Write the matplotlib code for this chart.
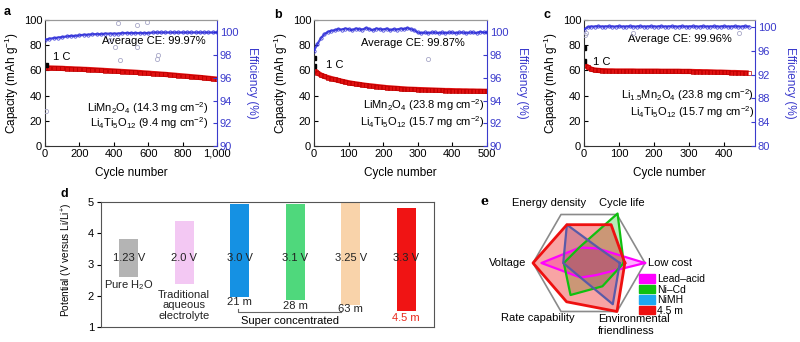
import numpy as np
import matplotlib
matplotlib.use("Agg")
import matplotlib.pyplot as plt
from matplotlib.patches import Patch

plt.rcParams['font.family'] = ['Liberation Sans', 'DejaVu Sans']
plt.rcParams['mathtext.fontset'] = 'custom'
plt.rcParams['mathtext.rm'] = 'Liberation Sans'
plt.rcParams['mathtext.default'] = 'regular'
plt.rcParams['font.size'] = 8

# ---- panel a data ----
cyc_a = [0, 25, 50, 75, 100, 125, 150, 175, 200, 225, 250, 275, 300, 325, 350, 375, 400,
         425, 450, 475, 500, 525, 550, 575, 600, 625, 650, 675, 700, 725, 750, 775, 800,
         825, 850, 875, 900, 925, 950, 975, 1000]
cap_a = [62.0, 61.9, 61.8, 61.7, 61.6, 61.4, 61.3, 61.1, 61.0, 60.8, 60.7, 60.5, 60.3,
         60.1, 59.9, 59.7, 59.5, 59.3, 59.1, 58.9, 58.7, 58.5, 58.3, 58.0, 57.8, 57.5,
         57.3, 57.0, 56.8, 56.5, 56.2, 55.9, 55.6, 55.3, 55.0, 54.7, 54.4, 54.1, 53.7,
         53.4, 53.0]
eff_a = [99.35, 99.45, 99.5, 99.55, 99.6, 99.65, 99.7, 99.7, 99.75, 99.8, 99.8, 99.85,
         99.85, 99.85, 99.9, 99.9, 99.9, 99.9, 99.95, 99.95, 99.95, 99.95, 99.95, 99.95,
         99.95, 100.0, 100.0, 100.0, 100.0, 100.0, 100.0, 100.0, 100.0, 100.0, 100.0,
         100.0, 100.0, 100.0, 100.0, 100.0, 100.0]
out_cyc_a = [8, 378, 407, 425, 436, 533, 533, 591, 651, 657]
out_eff_a = [93.1, 99.3, 98.7, 100.8, 97.6, 100.7, 98.7, 100.9, 97.7, 98.0]
first_cyc_a = [3]
first_cap_a = [64.5]

# ---- panel b data ----
cyc_b = [0, 10, 20, 30, 40, 50, 60, 70, 80, 90, 100, 110, 120, 130, 140, 150, 160, 170,
         180, 190, 200, 210, 220, 230, 240, 250, 260, 270, 280, 290, 300, 310, 320, 330,
         340, 350, 360, 370, 380, 390, 400, 410, 420, 430, 440, 450, 460, 470, 480, 490, 500]
cap_b = [60.5, 58.0, 56.3, 55.2, 54.3, 53.5, 52.8, 52.1, 51.4, 50.8, 50.2, 49.7, 49.3,
         48.9, 48.5, 48.1, 47.8, 47.5, 47.2, 46.9, 46.6, 46.3, 46.1, 45.9, 45.7, 45.5,
         45.3, 45.1, 45.0, 44.9, 44.8, 44.7, 44.6, 44.5, 44.4, 44.3, 44.2, 44.1, 44.0,
         44.0, 43.9, 43.8, 43.8, 43.7, 43.7, 43.6, 43.6, 43.5, 43.5, 43.4, 43.4]
eff_b = [98.4, 99.0, 99.5, 99.85, 100.05, 100.15, 100.2, 100.3, 100.25, 100.35, 100.3,
         100.2, 100.35, 100.3, 100.25, 100.4, 100.3, 100.2, 100.35, 100.3, 100.25, 100.35,
         100.2, 100.3, 100.25, 100.35, 100.3, 100.4, 100.3, 100.2, 100.0, 99.95, 100.0,
         99.95, 100.0, 100.0, 99.95, 100.0, 99.95, 100.0, 100.0, 99.95, 100.0, 100.0,
         99.95, 100.0, 100.0, 99.95, 100.05, 100.0, 100.0]
out_cyc_b = [330]
out_eff_b = [97.7]
first_cyc_b = [1, 1]
first_cap_b = [69.6, 63.5]

# ---- panel c data ----
cyc_c = [0, 10, 20, 30, 40, 50, 60, 70, 80, 90, 100, 110, 120, 130, 140, 150, 160, 170,
         180, 190, 200, 210, 220, 230, 240, 250, 260, 270, 280, 290, 300, 310, 320, 330,
         340, 350, 360, 370, 380, 390, 400, 410, 420, 430, 440, 450, 460, 470]
cap_c = [64.3, 62.8, 61.0, 60.3, 60.0, 59.8, 59.7, 59.6, 59.6, 59.5, 59.5, 59.5, 59.5,
         59.5, 59.5, 59.4, 59.4, 59.4, 59.4, 59.4, 59.4, 59.4, 59.3, 59.3, 59.3, 59.3,
         59.3, 59.3, 59.2, 59.2, 59.2, 59.1, 59.0, 59.0, 58.9, 58.9, 58.8, 58.7, 58.6,
         58.6, 58.5, 58.4, 58.3, 58.3, 58.2, 58.1, 58.0, 57.9]
eff_c = [99.6, 100.0, 100.1, 100.1, 100.15, 100.1, 100.1, 100.15, 100.1, 100.1, 100.15,
         100.1, 100.1, 100.15, 100.1, 100.1, 100.15, 100.1, 100.1, 100.15, 100.1, 100.1,
         100.15, 100.1, 100.1, 100.15, 100.1, 100.1, 100.15, 100.1, 100.1, 100.15, 100.1,
         100.1, 100.15, 100.1, 100.1, 100.15, 100.1, 100.1, 100.15, 100.1, 100.1, 100.15,
         100.1, 100.1, 100.15, 100.1]
out_cyc_c = [2, 7, 140, 441]
out_eff_c = [98.6, 99.0, 99.0, 99.0]
first_cyc_c = [1, 1]
first_cap_c = [77.5, 67.7]

# ---- panel d data ----
elec_names = ['Pure H$_2$O', 'Traditional\naqueous\nelectrolyte', '21 m', '28 m', '63 m', '4.5 m']
win_low = [2.6, 2.38, 1.95, 1.85, 1.72, 1.5]
win_high = [3.83, 4.38, 4.95, 4.95, 4.97, 4.8]
win_text = ['1.23 V', '2.0 V', '3.0 V', '3.1 V', '3.25 V', '3.3 V']
win_colors = ['#b4b4b4', '#f3c8f3', '#1591e3', '#4fd87c', '#f9d3aa', '#f01414']

# ---- panel e data ----
radar_axes = ['Low cost', 'Cycle life', 'Energy density', 'Voltage',
              'Rate capability', 'Environmental\nfriendliness']
lead_acid = [1.00, 0.30, 0.32, 0.85, 0.30, 0.25]
ni_cd = [0.62, 1.02, 0.33, 0.45, 0.66, 0.48]
nimh = [0.55, 0.32, 0.79, 0.46, 0.30, 0.85]
m45 = [0.64, 0.79, 0.79, 1.00, 0.80, 1.00]

RED = '#e01010'
BLUE = '#2a2ad8'
AXBLUE = '#3a3acc'

fig = plt.figure(figsize=(8, 3.42), dpi=100)


def px(x0, y0, x1, y1):
    return [x0 / 800, 1 - y1 / 342, (x1 - x0) / 800, (y1 - y0) / 342]


def cycle_panel(rect, cyc, cap, eff, oc, oe, fc, fcap, xlim, xt, xtl, elim, et,
                ce, ce_pos, c1_pos, lab1, lab2, lab_pos, letter, let_xy):
    ax = fig.add_axes(rect)
    ax.plot(cyc, cap, '-', color=RED, lw=3.8, solid_capstyle='butt')
    ax.plot(cyc, cap, 's', ms=2.2, mfc='none', mec='#c00000', mew=0.5)
    ax.plot(fc, fcap, 's', color='black', ms=2.5)
    ax.set_xlim(*xlim)
    ax.set_ylim(0, 100)
    ax.set_xticks(xt)
    ax.set_xticklabels(xtl)
    ax.set_yticks([0, 20, 40, 60, 80, 100])
    ax.tick_params(direction='in', length=3, labelsize=8, pad=2)
    ax.set_xlabel('Cycle number', fontsize=8.5, labelpad=6)
    ax.set_ylabel('Capacity (mAh g$^{-1}$)', fontsize=8.5, labelpad=2)
    for s in ['left', 'bottom']:
        ax.spines[s].set_color('#333333')
    ax.spines['top'].set_color('#999999')
    ax.spines['right'].set_visible(False)

    ax2 = ax.twinx()
    ax2.plot(cyc, eff, '-', color=BLUE, lw=1.6, alpha=0.85)
    ax2.plot(cyc, eff, 'o', ms=2.4, mfc='none', mec=BLUE, mew=0.5)
    ax2.plot(oc, oe, 'o', ms=3, mfc='none', mec='#a8a8c8', mew=0.6)
    ax2.set_ylim(*elim)
    ax2.set_yticks(et)
    ax2.tick_params(direction='in', length=3, labelsize=8, colors=AXBLUE, pad=2)
    ax2.spines['right'].set_color(AXBLUE)
    ax2.spines['top'].set_color('#999999')
    ax2.spines['left'].set_visible(False)
    ax2.spines['bottom'].set_visible(False)
    ax2.set_ylabel('Efficiency (%)', color=AXBLUE, rotation=270, fontsize=8.5, labelpad=14)

    ax.text(ce_pos[0], ce_pos[1], 'Average CE: ' + ce, transform=ax.transAxes,
            ha='right', va='center', fontsize=8)
    ax.text(c1_pos[0], c1_pos[1], '1 C', ha='left', va='center', fontsize=8)
    ax.text(lab_pos[0], lab_pos[1], lab1, transform=ax.transAxes, ha='right', va='center', fontsize=8)
    ax.text(lab_pos[0], lab_pos[2], lab2, transform=ax.transAxes, ha='right', va='center', fontsize=8)
    fig.text(let_xy[0] / 800, 1 - let_xy[1] / 342, letter, fontweight='bold', fontsize=9,
             ha='center', va='center')
    return ax, ax2


cycle_panel(px(45, 20, 217, 146), cyc_a, cap_a, eff_a, out_cyc_a, out_eff_a,
            first_cyc_a, first_cap_a, (0, 1000), [0, 200, 400, 600, 800, 1000],
            ['0', '200', '400', '600', '800', '1,000'], (90, 101.1),
            [90, 92, 94, 96, 98, 100], '99.97%', (0.935, 0.83), (45, 71),
            'LiMn$_2$O$_4$ (14.3 mg cm$^{-2}$)', 'Li$_4$Ti$_5$O$_{12}$ (9.4 mg cm$^{-2}$)',
            (0.95, 0.30, 0.185), 'a', (7, 12))

cycle_panel(px(314, 20, 487, 146), cyc_b, cap_b, eff_b, out_cyc_b, out_eff_b,
            first_cyc_b, first_cap_b, (0, 500), [0, 100, 200, 300, 400, 500],
            ['0', '100', '200', '300', '400', '500'], (90, 101.1),
            [90, 92, 94, 96, 98, 100], '99.87%', (0.87, 0.815), (35, 64),
            'LiMn$_2$O$_4$ (23.8 mg cm$^{-2}$)', 'Li$_4$Ti$_5$O$_{12}$ (15.7 mg cm$^{-2}$)',
            (0.985, 0.325, 0.19), 'b', (278, 15))

cycle_panel(px(584, 20, 755, 146), cyc_c, cap_c, eff_c, out_cyc_c, out_eff_c,
            first_cyc_c, first_cap_c, (0, 488), [0, 100, 200, 300, 400],
            ['0', '100', '200', '300', '400'], (80, 101.2),
            [80, 84, 88, 92, 96, 100], '99.96%', (0.866, 0.847), (26, 67),
            'Li$_{1.5}$Mn$_2$O$_4$ (23.8 mg cm$^{-2}$)', 'Li$_4$Ti$_5$O$_{12}$ (15.7 mg cm$^{-2}$)',
            (0.995, 0.405, 0.27), 'c', (547, 15))

# ---- panel d ----
axd = fig.add_axes(px(101, 202, 434, 327))
xpos = np.arange(len(win_low))
heights = np.array(win_high) - np.array(win_low)
axd.bar(xpos, heights, bottom=win_low, width=0.34, color=win_colors)
axd.set_xlim(-0.5, 5.5)
axd.set_ylim(1, 5)
axd.set_xticks([])
axd.set_yticks([1, 2, 3, 4, 5])
axd.tick_params(axis='y', direction='out', length=3, labelsize=8, pad=2)
for s in axd.spines.values():
    s.set_color('#555555')
axd.set_ylabel('Potential (V versus Li/Li$^{+}$)', fontsize=7.2)
axd.yaxis.set_label_coords(-0.078, 0.54)
for i, t in enumerate(win_text):
    axd.text(xpos[i], 3.22, t, ha='center', va='center', fontsize=8, color='#222222')
name_y = [2.33, 2.2, 1.8, 1.67, 1.56, 1.3]
for i, n in enumerate(elec_names):
    col = '#e8291c' if i == 5 else '#222222'
    va = 'top' if i == 1 else 'center'
    axd.text(xpos[i], name_y[i], n, ha='center', va=va, fontsize=8, color=col,
             linespacing=1.1)
axd.plot([1.97, 1.97, 3.82], [1.57, 1.48, 1.48], color='#666666', lw=0.8)
axd.text(2.9, 1.19, 'Super concentrated', ha='center', va='center', fontsize=8)
fig.text(64 / 800, 1 - 194 / 342, 'd', fontweight='bold', fontsize=9, ha='center', va='center')

# ---- panel e ----
axe = fig.add_axes(px(533, 207, 645, 319), projection='polar')
theta = np.deg2rad([0, 60, 120, 180, 240, 300, 360])
axe.plot(theta, [1] * 7, color='#8a8a8a', lw=1.2, clip_on=False)
series = [(lead_acid, '#ff00ff', 0.3, 'Lead\u2013acid'), (ni_cd, '#10c010', 0.3, 'Ni\u2013Cd'),
          (nimh, '#5a5aa8', 0.3, 'NiMH'), (m45, '#ee1010', 0.38, '4.5 m')]
for vals, col, a, lab in series:
    v = vals + vals[:1]
    axe.fill(theta, v, color=col, alpha=a, lw=0, clip_on=False)
for vals, col, a, lab in series:
    v = vals + vals[:1]
    axe.plot(theta, v, color=col, lw=2.0 if lab == '4.5 m' else 1.6, clip_on=False)
axe.set_ylim(0, 1)
axe.set_xticks([])
axe.set_yticks([])
axe.grid(False)
axe.spines['polar'].set_visible(False)
axe.patch.set_alpha(0)

lab_pos = [(648, 263, 'left'), (622, 203, 'center'), (549, 203, 'center'),
           (526, 263, 'right'), (538, 318, 'center'), (598, 325, 'left')]
for name, (x, y, ha) in zip(radar_axes, lab_pos):
    fig.text(x / 800, 1 - y / 342, name, ha=ha, va='center', fontsize=8, linespacing=1.2)

handles = [Patch(color=c) for c in ['#ff00ff', '#10c010', '#1ea8f0', '#ee1010']]
fig.legend(handles, ['Lead\u2013acid', 'Ni\u2013Cd', 'NiMH', '4.5 m'], loc='upper left',
           bbox_to_anchor=(639 / 800, 1 - 274 / 342), frameon=False, fontsize=7.5,
           borderpad=0, labelspacing=0.05, handletextpad=0.25, handlelength=1.5,
           handleheight=0.9, borderaxespad=0)
fig.text(485 / 800, 1 - 201 / 342, 'e', fontweight='bold', fontsize=9, family='DejaVu Serif',
         ha='center', va='center')

fig.savefig('out.png', dpi=100)
